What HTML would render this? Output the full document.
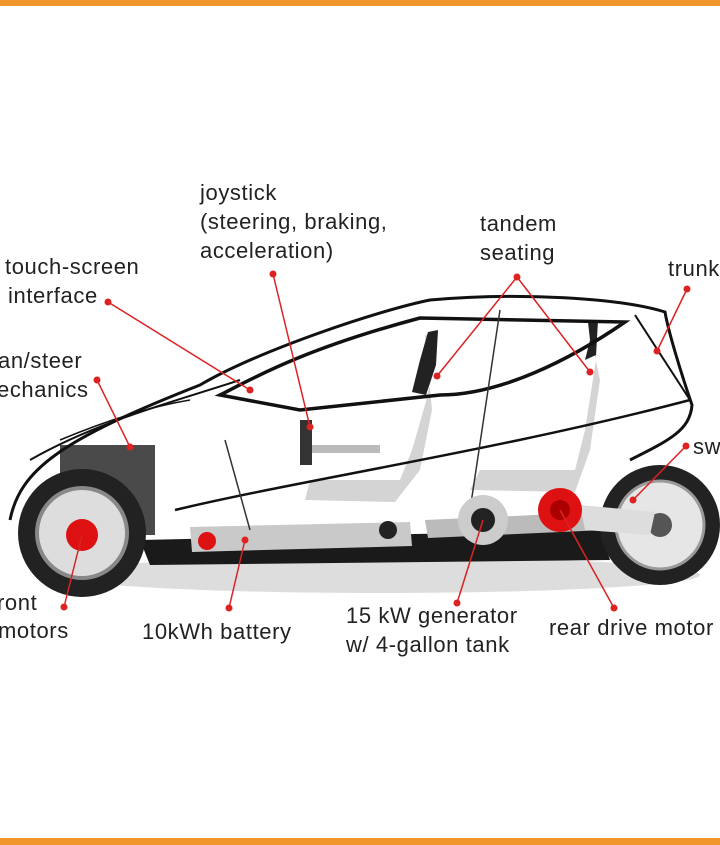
<!DOCTYPE html>
<html><head><meta charset="utf-8"><style>
body{margin:0;background:#fff;}
svg{display:block}
text{font-family:"Liberation Sans",sans-serif;font-size:22px;letter-spacing:0.6px;fill:#222}
</style></head><body>
<svg width="720" height="845" viewBox="0 0 720 845">
<rect width="720" height="845" fill="#fff"/>
<rect x="0" y="0" width="720" height="6" fill="#f0962a"/>
<rect x="0" y="838" width="720" height="7" fill="#f0962a"/>
<ellipse cx="380" cy="575" rx="320" ry="18" fill="#ddd"/>
<path d="M140 540 L600 530 L610 560 L150 565 Z" fill="#1a1a1a"/>
<path d="M190 527 L410 522 L412 546 L192 552 Z" fill="#c9c9c9"/>
<path d="M425 520 L600 512 L605 530 L428 538 Z" fill="#bbb"/>
<path d="M425 335 L438 332 L436 360 L425 405 L412 450 L400 480 L310 480 L305 500 L395 502 L420 470 L432 410 Z" fill="#d4d4d4"/>
<path d="M428 332 L438 330 L436 365 L426 395 L412 392 L420 360 Z" fill="#222"/>
<path d="M588 322 L598 320 L596 360 L585 430 L575 470 L480 470 L470 490 L575 492 L590 450 L600 380 Z" fill="#d4d4d4"/>
<path d="M588 322 L598 320 L596 355 L585 360 L590 340 Z" fill="#222"/>
<rect x="310" y="445" width="70" height="8" fill="#bbb"/>
<rect x="300" y="420" width="12" height="45" fill="#333"/>
<rect x="60" y="445" width="95" height="90" fill="#4a4a4a"/>
<path d="M10 520 C20 470 60 440 200 385 C260 350 380 310 430 300 C520 292 620 298 665 312 C668 330 680 370 692 405 C690 430 670 440 630 460" fill="none" stroke="#111" stroke-width="3"/>
<path d="M30 460 C100 420 180 400 240 380" fill="none" stroke="#111" stroke-width="2"/>
<path d="M60 440 C120 415 160 405 190 400" fill="none" stroke="#111" stroke-width="1.5"/>
<path d="M220 395 C250 380 300 350 420 318 L625 322 C570 360 500 395 440 395 L300 410 Z" fill="none" stroke="#111" stroke-width="3.5"/>
<path d="M175 510 C300 480 500 450 690 400" fill="none" stroke="#111" stroke-width="2.5"/>
<path d="M225 440 L250 530" stroke="#333" stroke-width="1.5"/>
<path d="M500 310 L470 510" stroke="#333" stroke-width="1.5"/>
<path d="M635 315 L690 400" stroke="#111" stroke-width="2"/>
<circle cx="82" cy="533" r="64" fill="#222"/>
<circle cx="82" cy="533" r="45" fill="#ddd" stroke="#888" stroke-width="4"/>
<circle cx="82" cy="535" r="16" fill="#d11"/>
<circle cx="660" cy="525" r="60" fill="#222"/>
<circle cx="660" cy="525" r="44" fill="#e6e6e6" stroke="#999" stroke-width="3"/>
<circle cx="660" cy="525" r="12" fill="#555"/>
<path d="M580 505 L655 512 L650 535 L585 530 Z" fill="#ddd"/>
<circle cx="483" cy="520" r="25" fill="#ccc"/>
<circle cx="483" cy="520" r="12" fill="#222"/>
<circle cx="560" cy="510" r="22" fill="#d11"/>
<circle cx="560" cy="510" r="10" fill="#a00"/>
<circle cx="207" cy="541" r="9" fill="#d11"/>
<circle cx="388" cy="530" r="9" fill="#222"/>
<g stroke="#d22" stroke-width="1.5" fill="none">
<path d="M108 302 L250 390"/><path d="M273 274 L310 427"/>
<path d="M517 277 L437 376"/><path d="M517 277 L590 372"/>
<path d="M687 289 L657 351"/><path d="M97 380 L130 447"/>
<path d="M686 446 L633 500"/><path d="M64 607 L82 535"/>
<path d="M229 608 L245 540"/><path d="M457 603 L483 520"/>
<path d="M614 608 L560 510"/>
</g>
<g fill="#d22">
<circle cx="108" cy="302" r="3.5"/><circle cx="250" cy="390" r="3.5"/>
<circle cx="273" cy="274" r="3.5"/><circle cx="310" cy="427" r="3.5"/>
<circle cx="517" cy="277" r="3.5"/><circle cx="437" cy="376" r="3.5"/><circle cx="590" cy="372" r="3.5"/>
<circle cx="687" cy="289" r="3.5"/><circle cx="657" cy="351" r="3.5"/>
<circle cx="97" cy="380" r="3.5"/><circle cx="130" cy="447" r="3.5"/>
<circle cx="686" cy="446" r="3.5"/><circle cx="633" cy="500" r="3.5"/>
<circle cx="64" cy="607" r="3.5"/><circle cx="229" cy="608" r="3.5"/><circle cx="245" cy="540" r="3.5"/>
<circle cx="457" cy="603" r="3.5"/><circle cx="614" cy="608" r="3.5"/>
</g>
<text x="200" y="200">joystick</text>
<text x="200" y="229">(steering, braking,</text>
<text x="200" y="258">acceleration)</text>
<text x="480" y="231">tandem</text>
<text x="480" y="260">seating</text>
<text x="668" y="276">trunk</text>
<text x="5" y="274">touch-screen</text>
<text x="8" y="303">interface</text>
<text x="-2" y="368">an/steer</text>
<text x="-3" y="397">echanics</text>
<text x="693" y="454">sw</text>
<text x="-3" y="610">ront</text>
<text x="-2" y="638">motors</text>
<text x="142" y="639">10kWh battery</text>
<text x="346" y="623">15 kW generator</text>
<text x="346" y="652">w/ 4-gallon tank</text>
<text x="549" y="635">rear drive motor</text>
</svg>
</body></html>
